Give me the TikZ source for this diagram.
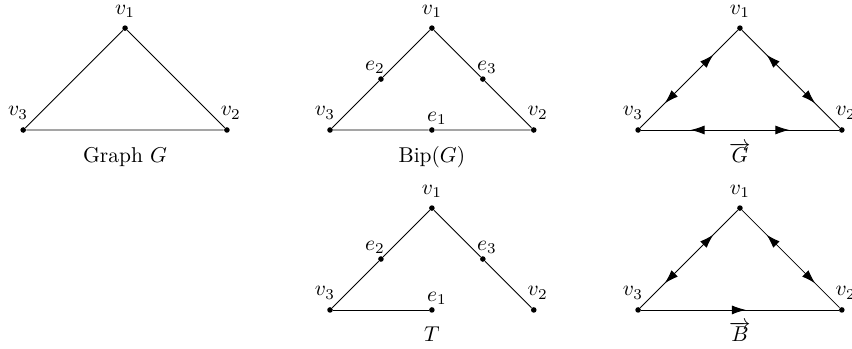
\documentclass[tikz,border=0pt]{standalone}
\usepackage{tikz}
\usetikzlibrary{arrows.meta, decorations.markings}
\tikzset{
  vtx/.style={circle, fill, inner sep=0pt, minimum size=2.6pt},
  elbl/.style={label distance=-2.5pt},
  legende/.style={anchor=base, inner sep=0pt},
  pointe/.tip={Latex[length=6.5pt, width=4.2pt]},
  deuxsens/.style={postaction={decorate}, decoration={markings,
      mark=at position 0.25 with {\arrowreversed{pointe}},
      mark=at position 0.75 with {\arrow{pointe}}}},
  unsens/.style={postaction={decorate}, decoration={markings,
      mark=at position 0.53 with {\arrow{pointe}}}}
}

\begin{document}
\begin{tikzpicture}
    \useasboundingbox (0,0) rectangle (13.967,5.721);
    % sommets v_1, v_2, v_3 des cinq triangles
    \foreach \g/\x/\y in {
      g/2.05/3.59,
      b/7.08/3.59,
      d/12.13/3.59,
      t/7.08/0.64,
      a/12.13/0.64} {
      \node[vtx, label=above:$v_1$] (\g1) at (\x,\y+1.67) {};
      \node[vtx, label={[xshift=1.8pt]above:$v_2$}] (\g2) at (\x+1.67,\y) {};
      \node[vtx, label={[xshift=-2.4pt]above:$v_3$}] (\g3) at (\x-1.67,\y) {};
    }
    % sommets e_1, e_2, e_3 (subdivision)
    \foreach \g/\x/\y in {b/7.08/3.59, t/7.08/0.64} {
      \node[vtx, label={[elbl, xshift=2.3pt]above:$e_1$}] (\g e1) at (\x,\y) {};
      \node[vtx, label={[elbl, xshift=-2.8pt]above:$e_2$}] (\g e2) at (\x-0.835,\y+0.835) {};
      \node[vtx, label={[elbl, xshift=1.9pt]above:$e_3$}] (\g e3) at (\x+0.835,\y+0.835) {};
    }
    % aretes
    \draw (g1) -- (g2) -- (g3) -- (g1);
    \draw (b3) -- (be2) -- (b1) -- (be3) -- (b2) -- (be1) -- (b3);
    \draw (t3) -- (te2) -- (t1) -- (te3) -- (t2);
    \draw (t3) -- (te1);
    \draw[deuxsens] (d1) -- (d3);
    \draw[deuxsens] (d1) -- (d2);
    \draw[deuxsens] (d3) -- (d2);
    \draw[deuxsens] (a1) -- (a3);
    \draw[deuxsens] (a1) -- (a2);
    \draw[unsens] (a3) -- (a2);
    % legendes
    \node[legende] (capg) at (2.05,3.05) {Graph $G$};
    \node[legende] (capb) at (7.08,3.05) {Bip$(G)$};
    \node[legende] (capd) at (12.13,3.05) {$\overrightarrow{G}$};
    \node[legende] (capt) at (7.08,0.115) {$T$};
    \node[legende] (capa) at (12.13,0.115) {$\overrightarrow{B}$};
  \end{tikzpicture}
\end{document}
